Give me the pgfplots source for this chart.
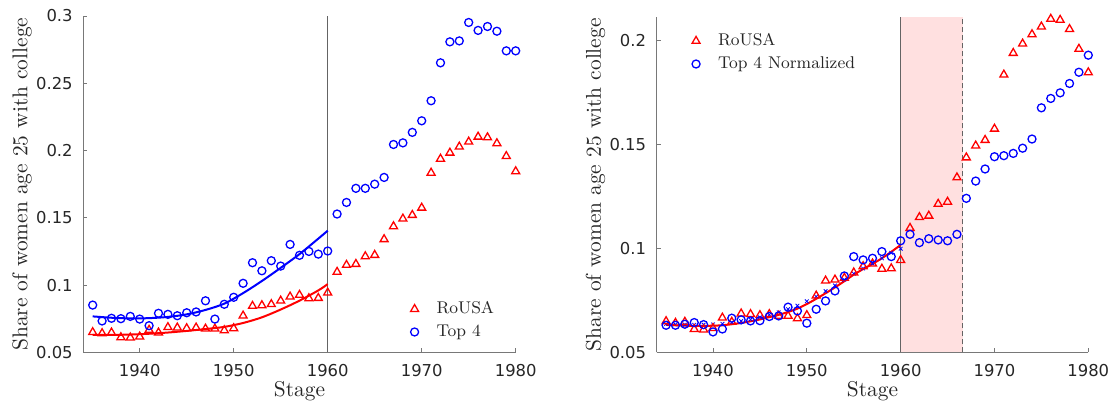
\documentclass[border=0pt]{standalone}
\usepackage{fontspec}
\usepackage{pgfplots}
\pgfplotsset{compat=1.18}
\usepackage{pgfplotstable}
\newfontfamily\dejavu{DejaVu Sans}
\definecolor{tickgray}{RGB}{38,38,38}
\definecolor{axgray}{RGB}{120,120,120}
\definecolor{vgray}{RGB}{100,100,100}

\pgfplotstableread{
year val
1935 0.0649
1936 0.0641
1937 0.0646
1938 0.0611
1939 0.0609
1940 0.0616
1941 0.0666
1942 0.0646
1943 0.0686
1944 0.0683
1945 0.0678
1946 0.0683
1947 0.0675
1948 0.0675
1949 0.0663
1950 0.0678
1951 0.0772
1952 0.0844
1953 0.0849
1954 0.0857
1955 0.0883
1956 0.0913
1957 0.0926
1958 0.0901
1959 0.0903
1960 0.0943
1961 0.1097
1962 0.1149
1963 0.1156
1964 0.1213
1965 0.1223
1966 0.1340
1967 0.1436
1968 0.1493
1969 0.1520
1970 0.1574
1971 0.1834
1972 0.1938
1973 0.1983
1974 0.2028
1975 0.2065
1976 0.2102
1977 0.2097
1978 0.2053
1979 0.1958
1980 0.1845
}\rousa

\pgfplotstableread{
year val
1935 0.0851
1936 0.0733
1937 0.0753
1938 0.0750
1939 0.0767
1940 0.0747
1941 0.0698
1942 0.0790
1943 0.0782
1944 0.0772
1945 0.0794
1946 0.0800
1947 0.0883
1948 0.0747
1949 0.0857
1950 0.0909
1951 0.1013
1952 0.1166
1953 0.1106
1954 0.1181
1955 0.1141
1956 0.1302
1957 0.1221
1958 0.1250
1959 0.1230
1960 0.1253
1961 0.1528
1962 0.1614
1963 0.1719
1964 0.1719
1965 0.1750
1966 0.1800
1967 0.2045
1968 0.2057
1969 0.2135
1970 0.2221
1971 0.2370
1972 0.2652
1973 0.2808
1974 0.2815
1975 0.2952
1976 0.2893
1977 0.2922
1978 0.2887
1979 0.2741
1980 0.2741
}\topfour

\pgfplotstableread{
year val
1935 0.0630
1936 0.0630
1937 0.0635
1938 0.0643
1939 0.0633
1940 0.0598
1941 0.0612
1942 0.0664
1943 0.0656
1944 0.0651
1945 0.0652
1946 0.0672
1947 0.0675
1948 0.0717
1949 0.0699
1950 0.0640
1951 0.0707
1952 0.0747
1953 0.0795
1954 0.0867
1955 0.0960
1956 0.0944
1957 0.0952
1958 0.0984
1959 0.0960
1960 0.1036
1961 0.1067
1962 0.1027
1963 0.1046
1964 0.1040
1965 0.1036
1966 0.1067
1967 0.1240
1968 0.1323
1969 0.1381
1970 0.1440
1971 0.1445
1972 0.1456
1973 0.1481
1974 0.1525
1975 0.1675
1976 0.1720
1977 0.1747
1978 0.1792
1979 0.1846
1980 0.1928
}\topnorm

\pgfplotstableread{
year val
1935 0.0629
1937 0.0629
1939 0.0632
1941 0.0638
1943 0.0647
1945 0.0659
1947 0.0673
1949 0.0689
1951 0.0718
1953 0.0760
1955 0.0818
1957 0.0884
1959 0.0960
1960 0.1007
}\fitredL

\pgfplotstableread{
year val
1935 0.0767
1937 0.0757
1939 0.0752
1941 0.0754
1943 0.0763
1945 0.0782
1947 0.0815
1949 0.0862
1951 0.0940
1953 0.1030
1955 0.1128
1957 0.1230
1959 0.1345
1960 0.1404
}\fitblueL

\pgfplotstableread{
year val
1935 0.0632
1936 0.0630
1937 0.0628
1938 0.0627
1939 0.0627
1940 0.0628
1941 0.0630
1942 0.0635
1943 0.0641
1944 0.0649
1945 0.0658
1946 0.0669
1947 0.0680
1948 0.0694
1949 0.0710
1950 0.0732
1951 0.0757
1952 0.0784
1953 0.0812
1954 0.0842
1955 0.0873
1956 0.0900
1957 0.0925
1958 0.0952
1959 0.0983
1960 0.1016
}\fitR

\pgfplotstableread{
year val
1935 0.0636
1936 0.0634
1937 0.0633
1938 0.0632
1939 0.0633
1940 0.0634
1941 0.0637
1942 0.0643
1943 0.0650
1944 0.0658
1945 0.0668
1946 0.0680
1947 0.0692
1948 0.0707
1949 0.0724
1950 0.0745
1951 0.0768
1952 0.0794
1953 0.0821
1954 0.0849
1955 0.0878
1956 0.0903
1957 0.0927
1958 0.0952
1959 0.0978
1960 0.0998
}\fitRx

\pgfplotsset{
  mystyle/.style={
    scale only axis,
    axis lines=left,
    axis line style={-, draw=axgray, line width=0.5pt},
    tick align=inside,
    major tick length=2pt,
    tick style={draw=axgray, line width=0.5pt},
    xmin=1934, xmax=1980,
    xtick={1940,1950,1960,1970,1980},
    xticklabels={1940,1950,1960,1970,1980},
    ticklabel style={font=\dejavu\fontsize{8.2}{10}\selectfont, text=tickgray},
    xticklabel style={yshift=-2.6pt},
    yticklabel style={xshift=-1.8pt},
    /pgf/number format/assume math mode=true,
    xlabel={Stage},
    ylabel={Share of women age 25 with college},
    label style={font=\fontsize{10.7}{12}\selectfont, text=tickgray},
    xlabel style={at={([yshift=-19.4pt]axis description cs:0.5,0)}, anchor=center},
    ylabel style={at={([xshift=-30.6pt]axis description cs:0,0.5)}, anchor=center},
    legend style={draw=none, fill=none, font=\fontsize{8.5}{10.3}\selectfont,
      text=tickgray, inner sep=0pt, cells={anchor=west}},
    clip=false,
  },
  tri/.style={only marks, mark=triangle, mark size=2.3pt,
    mark options={draw=red, line width=0.65pt, solid}},
  circ/.style={only marks, mark=o, mark size=2pt,
    mark options={draw=blue, line width=0.65pt, solid}},
}

\begin{document}
\begin{tikzpicture}
\useasboundingbox (-41.65pt,-28.35pt) rectangle (514.85pt,176.15pt);

\begin{axis}[mystyle,
  width=216.2pt, height=168.15pt,
  ymin=0.05, ymax=0.3,
  ytick={0.05,0.1,0.15,0.2,0.25,0.3},
  yticklabels={0.05,0.1,0.15,0.2,0.25,0.3},
  legend style={at={(0.756,0.164)}, anchor=north west},
]
\addplot[vgray, line width=0.8pt, forget plot] coordinates {(1960,0.05) (1960,0.3)};
\addplot[red, line width=1pt, smooth, forget plot] table[x=year,y=val] {\fitredL};
\addplot[blue, line width=1pt, smooth, forget plot] table[x=year,y=val] {\fitblueL};
\addplot[tri] table[x=year,y=val] {\rousa};
\addlegendentry{\hspace{7pt}RoUSA}
\addplot[circ] table[x=year,y=val] {\topfour};
\addlegendentry{\hspace{7pt}Top 4}
\end{axis}

\begin{axis}[mystyle, at={(286.7pt,0pt)}, anchor=south west,
  width=215.8pt, height=167.5pt,
  ymin=0.05, ymax=0.211,
  ytick={0.05,0.1,0.15,0.2},
  yticklabels={0.05,0.1,0.15,0.2},
  legend style={at={(0.081,0.965)}, anchor=north west},
]
\addplot[fill=red, fill opacity=0.12, draw=none, forget plot] coordinates {(1960,0.05) (1966.6,0.05) (1966.6,0.211) (1960,0.211)} -- cycle;
\addplot[vgray, line width=0.8pt, forget plot] coordinates {(1960,0.05) (1960,0.211)};
\addplot[vgray, line width=0.8pt, dash pattern=on 2.5pt off 1.5pt, forget plot] coordinates {(1966.6,0.05) (1966.6,0.211)};
\addplot[only marks, mark=x, mark size=1.3pt, mark options={draw=blue, line width=0.4pt}, forget plot] table[x=year,y=val] {\fitRx};
\addplot[red, line width=1pt, smooth, forget plot] table[x=year,y=val] {\fitR};
\addplot[tri] table[x=year,y=val] {\rousa};
\addlegendentry{\hspace{7pt}RoUSA}
\addplot[circ] table[x=year,y=val] {\topnorm};
\addlegendentry{\hspace{7pt}Top 4 Normalized}
\end{axis}
\end{tikzpicture}
\end{document}
